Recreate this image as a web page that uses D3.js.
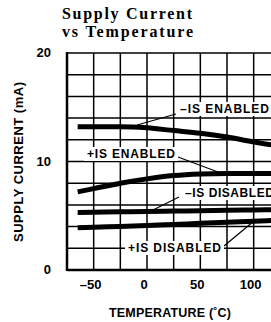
<!DOCTYPE html>
<html lang="en">
<head>
	<meta charset="UTF-8">
	<title>Supply Current vs Temperature</title>
	<script src="https://cdn.jsdelivr.net/npm/d3@7"></script>
	<style>
		html,body{margin:0;padding:0;background:#fff;overflow:hidden;}
		svg{display:block;}
		.lbl{font-family:"Liberation Sans",Arial,sans-serif;font-weight:bold;fill:#000;}
		.title{font-family:"Liberation Serif","DejaVu Serif",serif;font-weight:bold;font-size:16px;fill:#000;}
	</style>
</head>
<body>
	<svg id="svg" width="271" height="322"></svg>
	<script>
		var temps = [-65,-50,-25,0,25,50,75,100,125,150];
		var negEnabled  = [13.2,13.2,13.2,13.1,12.85,12.6,12.25,11.8,11.4,11.0];
		var posEnabled  = [7.2,7.5,8.0,8.4,8.7,8.85,8.9,8.9,8.9,8.9];
		var negDisabled = [5.3,5.32,5.36,5.4,5.43,5.46,5.5,5.53,5.56,5.6];
		var posDisabled = [3.9,3.95,4.02,4.1,4.2,4.3,4.4,4.5,4.6,4.7];
		var xTicks = [-50,0,50,100];
		var yTicks = [0,10,20];

		var svg = d3.select("#svg");
		var x = d3.scaleLinear().domain([-75,150]).range([67,307]);
		var y = d3.scaleLinear().domain([0,20]).range([270,53]);

		// title
		svg.append("text").attr("class","title").attr("x",62).attr("y",19)
			.attr("textLength",130).text("Supply Current");
		svg.append("text").attr("class","title").attr("x",62).attr("y",37)
			.attr("textLength",131).text("vs Temperature");

		// grid
		var grid = svg.append("g").attr("stroke","#000").attr("stroke-width",1.5);
		grid.selectAll(".v").data(d3.range(-75,151,25)).enter().append("line")
			.attr("x1",d=>x(d)).attr("x2",d=>x(d)).attr("y1",y(20)).attr("y2",y(0));
		grid.selectAll(".h").data(d3.range(0,21,2)).enter().append("line")
			.attr("x1",x(-75)).attr("x2",x(150)).attr("y1",d=>y(d)).attr("y2",d=>y(d));
		// heavier left and bottom axes
		svg.append("line").attr("x1",x(-75)).attr("x2",x(-75)).attr("y1",y(20)-1).attr("y2",y(0)+1)
			.attr("stroke","#000").attr("stroke-width",2.5);
		svg.append("line").attr("x1",x(-75)).attr("x2",x(150)).attr("y1",y(0)).attr("y2",y(0))
			.attr("stroke","#000").attr("stroke-width",2.5);

		// curves
		var line = d3.line().x(d=>x(d[0])).y(d=>y(d[1])).curve(d3.curveMonotoneX);
		[negEnabled,posEnabled,negDisabled,posDisabled].forEach(function(s){
			svg.append("path").attr("d",line(temps.map((t,i)=>[t,s[i]])))
				.attr("fill","none").attr("stroke","#000").attr("stroke-width",5);
		});

		// labels with white boxes and leader lines
		function label(txt,tx,ty,w,lx1,ly1,lx2,ly2){
			svg.append("line").attr("x1",lx1).attr("y1",ly1).attr("x2",lx2).attr("y2",ly2)
				.attr("stroke","#000").attr("stroke-width",1.2);
			svg.append("rect").attr("x",tx-3).attr("y",ty-11).attr("width",w+6).attr("height",14).attr("fill","#fff");
			svg.append("text").attr("class","lbl").attr("x",tx).attr("y",ty)
				.attr("font-size",12).attr("textLength",w).text(txt);
		}
		label("\u2013IS ENABLED",180,113,89,176,114,137,125);
		label("+IS ENABLED",87,158,88,178,157,218,172);
		label("\u2013IS DISABLED",185,197,89,179,197,147,213);
		label("+IS DISABLED",128,252,93,224,246,254,221);

		// y ticks
		svg.selectAll(".yt").data(yTicks).enter().append("text").attr("class","lbl")
			.attr("x",51).attr("y",d=>y(d)+4).attr("text-anchor","end").attr("font-size",13).text(d=>d);
		// x ticks
		svg.selectAll(".xt").data(xTicks).enter().append("text").attr("class","lbl")
			.attr("x",d=>x(d)-3).attr("y",289).attr("text-anchor","middle").attr("font-size",13)
			.text(d=>d<0?"\u2013"+(-d):d);

		// axis titles
		svg.append("text").attr("class","lbl").attr("font-size",13)
			.attr("transform","translate(23,162) rotate(-90)").attr("text-anchor","middle")
			.attr("textLength",160).text("SUPPLY CURRENT  (mA)");
		svg.append("text").attr("class","lbl").attr("font-size",12.5)
			.attr("x",170).attr("y",317).attr("text-anchor","middle")
			.attr("textLength",122).text("TEMPERATURE (\u02DAC)");
	</script>
</body>
</html>
